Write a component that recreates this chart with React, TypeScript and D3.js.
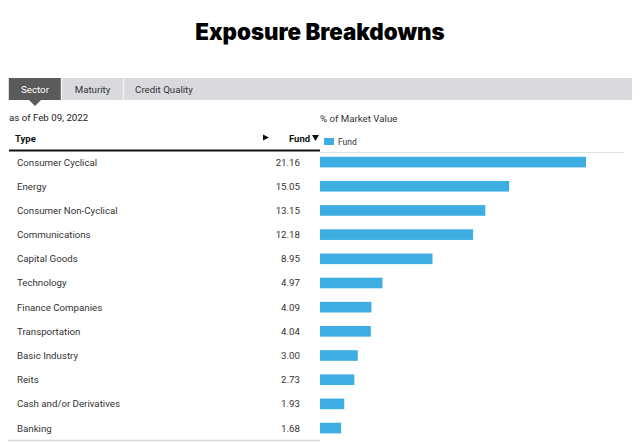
import React from "react";
import * as d3 from "d3";

const categories = [
  "Consumer Cyclical",
  "Energy",
  "Consumer Non-Cyclical",
  "Communications",
  "Capital Goods",
  "Technology",
  "Finance Companies",
  "Transportation",
  "Basic Industry",
  "Reits",
  "Cash and/or Derivatives",
  "Banking",
];
const fundValues = [21.16, 15.05, 13.15, 12.18, 8.95, 4.97, 4.09, 4.04, 3.0, 2.73, 1.93, 1.68];
const tabs = ["Sector", "Maturity", "Credit Quality"];

const W = 640;
const H = 443;
const font = "Roboto, 'Liberation Sans', sans-serif";

export default function App() {
  const rowStep = 24.18;
  const y = d3
    .scaleBand<string>()
    .domain(categories)
    .range([150, 150 + rowStep * categories.length])
    .paddingInner(0.56)
    .paddingOuter(0.28);
  const x = d3.scaleLinear().domain([0, 21.16]).range([320, 586]);
  const rowCenter = (c: string) => (y(c) as number) + y.bandwidth() / 2;

  const tabX = [9, 62, 124];
  const tabW = [52, 61, 80];

  return (
    <svg width={W} height={H} style={{ position: "absolute", left: 0, top: 0, background: "#fff" }}>
      <text x={320} y={40} textAnchor="middle" fontFamily="Inter, Roboto, sans-serif" fontWeight={900} fontSize={22.3} fill="#000">
        Exposure Breakdowns
      </text>
      {/* tab bar */}
      <rect x={8} y={78} width={624} height={22} fill="#d9d9de" />
      {tabs.map((t, i) => (
        <g key={t}>
          <rect x={tabX[i]} y={78} width={tabW[i]} height={22} fill={i === 0 ? "#5a5a5a" : "#d9d9de"} />
          {i > 0 && <line x1={tabX[i] - 0.5} x2={tabX[i] - 0.5} y1={78} y2={100} stroke="#f2f2f2" strokeWidth={1.5} />}
          <text
            x={tabX[i] + tabW[i] / 2}
            y={92.5}
            textAnchor="middle"
            fontFamily={font}
            fontSize={9.7}
            fill={i === 0 ? "#fff" : "#333"}
          >
            {t}
          </text>
        </g>
      ))}
      <path d="M29,100 L41,100 L35,106 Z" fill="#5a5a5a" />
      <text x={9} y={121} fontFamily={font} fontSize={9.7} fill="#222">
        as of Feb 09, 2022
      </text>
      {/* table header */}
      <text x={15} y={142} fontFamily={font} fontSize={9.5} fontWeight={700} fill="#111">
        Type
      </text>
      <path d="M263,134.5 L269,137.5 L263,140.5 Z" fill="#111" />
      <text x={289} y={142} fontFamily={font} fontSize={9.5} fontWeight={700} fill="#111">
        Fund
      </text>
      <path d="M312,135 L319,135 L315.5,141 Z" fill="#111" />
      <line x1={9} x2={320} y1={150.5} y2={150.5} stroke="#111" strokeWidth={2} />
      {/* chart header */}
      <text x={320} y={122} fontFamily={font} fontSize={9.7} fill="#333">
        % of Market Value
      </text>
      <rect x={324} y={138} width={10} height={7} fill="#3eaee2" />
      <text x={338} y={145} fontFamily={font} fontSize={8.5} fill="#333">
        Fund
      </text>
      <line x1={320} x2={624} y1={152.5} y2={152.5} stroke="#e2e2e2" strokeWidth={1} />
      {categories.map((c, i) => (
        <g key={c}>
          <text x={17} y={rowCenter(c) + 3.5} fontFamily={font} fontSize={9.7} fill="#333">
            {c}
          </text>
          <text x={300} y={rowCenter(c) + 3.5} textAnchor="end" fontFamily={font} fontSize={9.7} fill="#333">
            {fundValues[i].toFixed(2)}
          </text>
          <rect x={x(0)} y={y(c)} width={x(fundValues[i]) - x(0)} height={y.bandwidth()} fill="#3eaee2" />
        </g>
      ))}
      <line x1={8} x2={320} y1={440.5} y2={440.5} stroke="#d8d8d8" strokeWidth={1.5} />
    </svg>
  );
}
